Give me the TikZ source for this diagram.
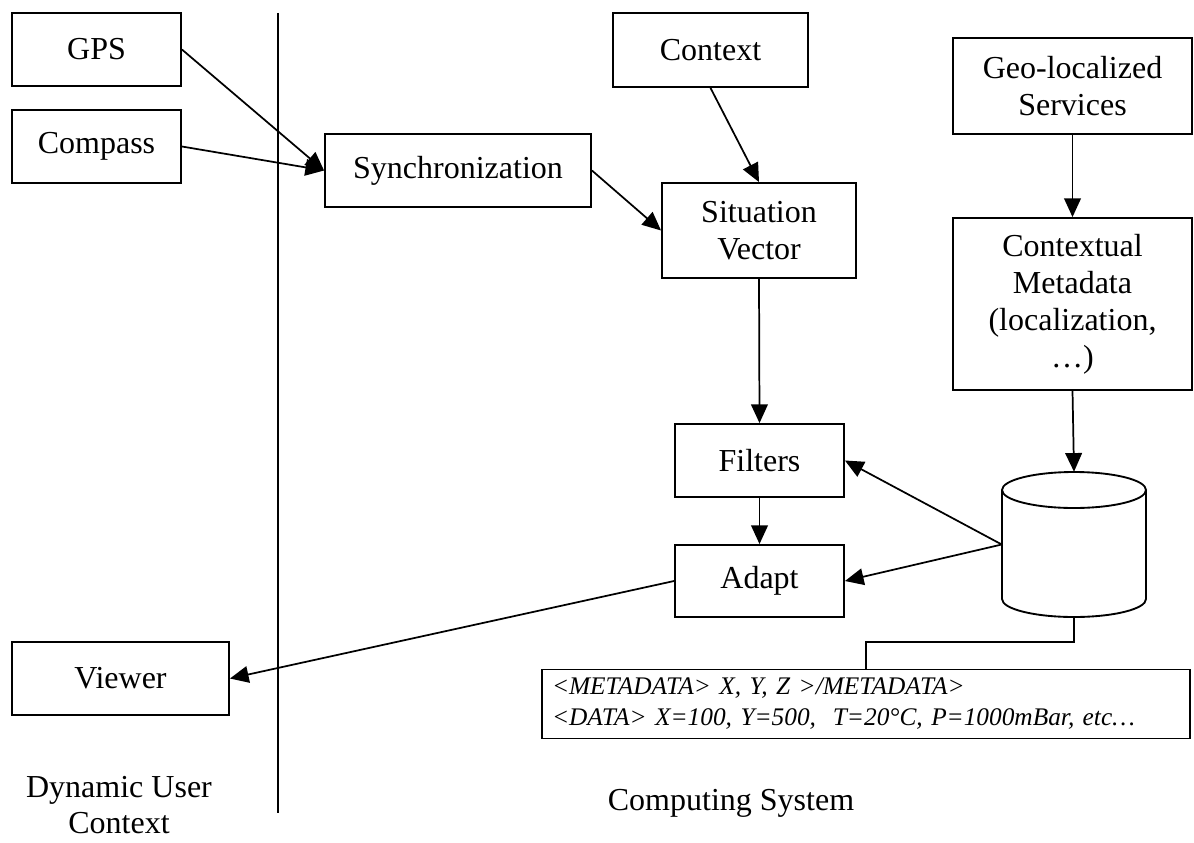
\documentclass[tikz,border=0pt]{standalone}
\usepackage{fontspec}
\setmainfont{Liberation Serif}
\usetikzlibrary{arrows.meta}
\def\u{0.75pt}
\tikzset{
  box/.style={draw, line width=1.4pt, inner sep=0pt, align=center,
    font=\fontsize{24}{27.75}\selectfont},
  link/.style={line width=1.3pt},
  arr/.style={link, -{Triangle[length=14pt,width=12.5pt]}},
  label/.style={align=center, inner sep=0pt, font=\fontsize{24}{27}\selectfont},
}
\begin{document}
\begin{tikzpicture}[x=0.75pt, y=-0.75pt]
\useasboundingbox (0,0) rectangle (1194,842);

% divider between user context and computing system
\coordinate (divtop) at (278,13);
\coordinate (divbot) at (278,813);
\draw[link] (divtop) -- (divbot);

% user-side devices
\node[box, minimum width=169*\u, minimum height=73*\u] (gps) at (96.5,49.5) {GPS};
\node[box, minimum width=169*\u, minimum height=73*\u] (compass) at (96.5,146.5) {Compass};
\node[box, minimum width=217*\u, minimum height=73*\u] (viewer) at (120.5,678.5) {Viewer};

% processing chain
\node[box, minimum width=266*\u, minimum height=73*\u] (sync) at (458,170.5) {Synchronization};
\node[box, minimum width=195*\u, minimum height=74*\u] (context) at (710.5,50) {Context};
\node[box, minimum width=194*\u, minimum height=95*\u] (situ) at (759,230.5) {Situation\\Vector};
\node[box, minimum width=169*\u, minimum height=73*\u] (filters) at (759.5,460.5) {Filters};
\node[box, minimum width=169*\u, minimum height=72*\u] (adapt) at (759.5,581) {Adapt};

% services and metadata
\node[box, minimum width=239*\u, minimum height=96*\u] (geo) at (1072.5,86) {Geo-localized\\Services};
\node[box, minimum width=239*\u, minimum height=172*\u] (meta) at (1072.5,304) {Contextual\\Metadata\\(localization,\\…)};

% database cylinder
\node[inner sep=0pt, minimum width=144*\u, minimum height=145*\u] (db) at (1074,544.5) {};
\begin{scope}[shift={(db.center)}, x=0.75pt, y=0.75pt]
  \draw[line width=1.4pt] (0,54.5) ellipse[x radius=72, y radius=18];
  \draw[line width=1.4pt] (-72,54.5) -- (-72,-54.5)
    arc[start angle=180, end angle=360, x radius=72, y radius=18] -- (72,54.5);
\end{scope}

% stored record
\node[box, align=left, inner xsep=10*\u, inner ysep=0pt, text width=628*\u,
      minimum height=69*\u, font=\fontsize{19}{23.25}\selectfont\itshape]
  (data) at (866,704)
  {<METADATA> X, Y, Z >/METADATA>\\<DATA> X=100, Y=500,\ \ T=20°C, P=1000mBar, etc…};

% region captions
\node[label, anchor=base] (userlbl) at (119,833) {Dynamic User\\Context};
\node[label, anchor=base] (syslbl) at (731,810) {Computing System};

% connectors
\draw[arr] (gps.east) -- (sync.west);
\draw[arr] (compass.east) -- (sync.west);
\draw[arr] (sync.east) -- (situ.west);
\draw[arr] (context.south) -- (situ.north);
\draw[arr] (situ.south) -- (filters.north);
\draw[arr] (filters.south) -- (adapt.north);
\draw[arr] (geo.south) -- (meta.north);
\draw[arr] (meta.south) -- (db.north);
\draw[arr] (db.west) -- (filters.east);
\draw[arr] (db.west) -- (adapt.east);
\draw[arr] (adapt.west) -- (viewer.east);
\draw[link] (db.south) -- ++(0,25) -| (data.north);
\end{tikzpicture}
\end{document}
